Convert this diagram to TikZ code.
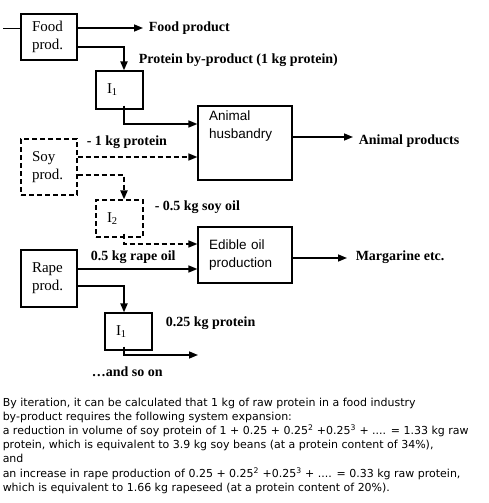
\documentclass[tikz,border=0pt]{standalone}
\usepackage{fontspec}
\setmainfont{Liberation Serif}
\setsansfont{Liberation Sans}
\newfontfamily\notefont{DejaVu Sans}
\usetikzlibrary{arrows.meta}

\begin{document}
\begin{tikzpicture}[x=1pt,y=1pt,->,>={Triangle[length=9pt,width=7pt]},
  line width=1.5pt,
  proc/.style={rectangle,draw,line width=1.2pt,
    font=\fontsize{15}{18}\selectfont,align=left,
    text width=34pt,inner xsep=11pt,minimum height=46pt},
  iter/.style={rectangle,draw,line width=1.2pt,
    font=\fontsize{15}{18}\selectfont,align=left,
    text width=25pt,inner xsep=11pt,minimum height=37pt},
  plant/.style={rectangle,draw,line width=1.2pt,
    font=\sffamily\fontsize{13.5}{18}\selectfont,align=left,
    text width=72pt,inner xsep=11pt,minimum height=56pt},
  flow/.style={rectangle,font=\bfseries\fontsize{14}{16}\selectfont,
    anchor=west,inner xsep=5pt},
  avoid/.style={dash pattern=on 5pt off 3pt}]

  \useasboundingbox (0,0) rectangle (489,-503);

  \node[proc] (food) at (49,-37) {Food\\prod.};
  \node[proc,avoid,minimum height=56pt] (soy) [node distance=130pt,
    below of=food] {Soy\\prod.};
  \node[proc,minimum height=57pt] (rape) [node distance=111.5pt,
    below of=soy] {Rape\\prod.};
  \node[iter,minimum height=38pt] (I1a) at (119.5,-90) {I\textsubscript{1}};
  \node[iter,avoid] (I2) [node distance=128.5pt,below of=I1a]
    {I\textsubscript{2}};
  \node[iter] (I1b) at (128.5,-331.5) {I\textsubscript{1}};
  \node[plant,minimum height=74pt] (animal) at (245,-143)
    {Animal\\husbandry\\[14pt]\strut};
  \node[plant] (edible) [node distance=112pt,below of=animal]
    {Edible oil\\production};
  \coordinate (feed) at (3,-29);
  \coordinate (next) at (198,-355);

  \node[flow] (foodout) at (143,-28) {Food product};
  \node[flow] (byprod) at (133,-60) {Protein by-product (1 kg protein)};
  \node[flow] (animout) at (353,-141) {Animal products};
  \node[flow] (oilout) at (350,-257) {Margarine etc.};
  \node[flow] (soyprot) at (81,-142) {- 1 kg protein};
  \node[flow] (soyoil) at (149,-207) {- 0.5 kg soy oil};
  \node[flow] (rapeoil) at (85,-257) {0.5 kg rape oil};
  \node[flow] (rapeprot) at (160,-323) {0.25 kg protein};
  \node[flow] (soon) at (86,-372) {\dots and so on};

  % food chain
  \draw[-,line width=1pt] (feed) -- (feed -| food.west);
  \draw (food.east |- foodout.west) -- (foodout.west);
  \draw[line width=2pt] ([yshift=-10pt]food.east) -| ([xshift=4.5pt]I1a.north);
  \draw ([xshift=4.5pt,yshift=4pt]I1a.south) |- ([yshift=19pt]animal.west);
  \draw ([yshift=6pt]animal.east) -- ([yshift=6pt]animal.east -| animout.west);
  \draw[shorten >=3pt] ([yshift=-3pt]edible.east)
    -- ([yshift=-3pt]edible.east -| oilout.west);

  % avoided soy
  \draw[avoid] ([yshift=10pt]soy.east) -- ([yshift=10pt]soy.east -| animal.west);
  \draw[avoid,line width=2pt] ([yshift=-8pt]soy.east) -| ([xshift=4.5pt]I2.north);
  \draw[avoid] ([xshift=4.5pt,yshift=4pt]I2.south) |- ([yshift=11pt]edible.west);

  % rape
  \draw ([yshift=9.5pt]rape.east) -- ([yshift=9.5pt]rape.east -| edible.west);
  \draw[line width=2pt] ([yshift=-7.5pt]rape.east) -| ([xshift=-4.5pt]I1b.north);
  \draw ([xshift=-4.5pt,yshift=4pt]I1b.south) |- (next);

  \node[anchor=north west,inner sep=0pt,align=left,
    font=\notefont\fontsize{11}{14.2}\selectfont] (note) at (2,-397)
    {By iteration, it can be calculated that 1 kg of raw protein in a food industry\\
     by-product requires the following system expansion:\\
     a reduction in volume of soy protein of 1 + 0.25 + 0.25\textsuperscript{2} +0.25\textsuperscript{3} + .... = 1.33 kg raw\\
     protein, which is equivalent to 3.9 kg soy beans (at a protein content of 34\%),\\
     and\\
     an increase in rape production of 0.25 + 0.25\textsuperscript{2} +0.25\textsuperscript{3} + .... = 0.33 kg raw protein,\\
     which is equivalent to 1.66 kg rapeseed (at a protein content of 20\%).};
\end{tikzpicture}
\end{document}
